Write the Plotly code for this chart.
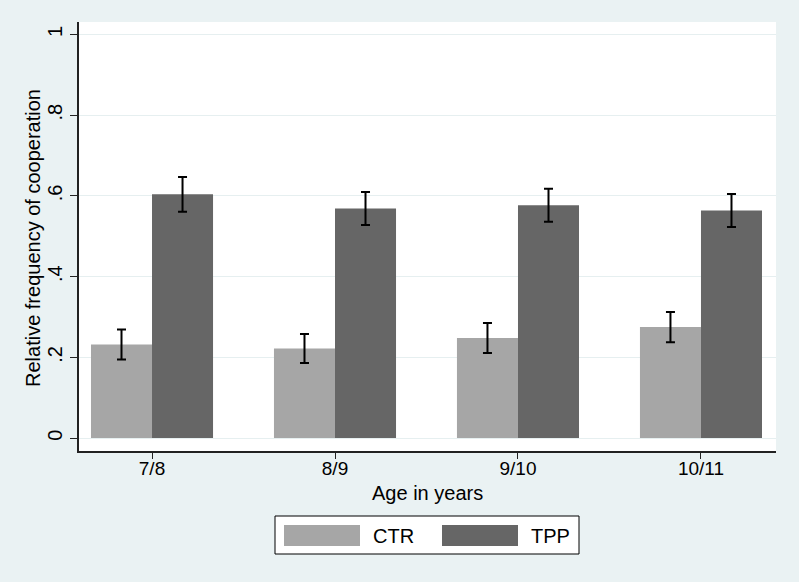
import plotly.graph_objects as go

ages = ["7/8", "8/9", "9/10", "10/11"]
ctr = [0.232, 0.222, 0.248, 0.275]
ctr_err = [0.037, 0.036, 0.037, 0.0375]
tpp = [0.604, 0.569, 0.577, 0.564]
tpp_err = [0.043, 0.041, 0.041, 0.041]
ytick_vals = [0, 0.2, 0.4, 0.6, 0.8, 1]
ytick_text = ["0", ".2", ".4", ".6", ".8", "1"]

CTR_COLOR = "#A6A6A6"
TPP_COLOR = "#666666"
BG = "#EAF2F3"
FONT = "Liberation Sans, Arial, sans-serif"

# plot area in pixels
L, R, T, B = 79, 776, 22, 451
W, H = 799, 582
pw, ph = R - L, B - T


def px(x):
    return (x - L) / pw


def py(y):
    return (B - y) / ph


fig = go.Figure()
fig.add_trace(go.Bar(
    x=ages, y=ctr, name="CTR", marker=dict(color=CTR_COLOR, line=dict(width=0)),
    error_y=dict(type="data", array=ctr_err, color="black", thickness=2, width=4.5),
    showlegend=False,
))
fig.add_trace(go.Bar(
    x=ages, y=tpp, name="TPP", marker=dict(color=TPP_COLOR, line=dict(width=0)),
    error_y=dict(type="data", array=tpp_err, color="black", thickness=2, width=4.5),
    showlegend=False,
))

shapes = []
annotations = []
# legend box
shapes.append(dict(type="rect", xref="paper", yref="paper",
                   x0=px(275), x1=px(579), y0=py(554), y1=py(516),
                   fillcolor="white", line=dict(color="black", width=1)))
legend_items = [("CTR", CTR_COLOR, 284, 371), ("TPP", TPP_COLOR, 442, 529)]
for label, col, sx, tx in legend_items:
    shapes.append(dict(type="rect", xref="paper", yref="paper",
                       x0=px(sx), x1=px(sx + 76), y0=py(546), y1=py(525),
                       fillcolor=col, line=dict(width=0)))
    annotations.append(dict(text=label, xref="paper", yref="paper",
                            x=px(tx), y=py(535.5), xanchor="left", yanchor="middle",
                            showarrow=False, font=dict(size=20, color="black", family=FONT)))

# axis titles
annotations.append(dict(text="Age in years", xref="paper", yref="paper",
                        x=px(427.5), y=py(493), xanchor="center", yanchor="middle",
                        showarrow=False, font=dict(size=20, color="black", family=FONT)))
annotations.append(dict(text="Relative frequency of cooperation", xref="paper", yref="paper",
                        x=px(33), y=py(238), xanchor="center", yanchor="middle", textangle=-90,
                        showarrow=False, font=dict(size=20, color="black", family=FONT)))

fig.update_layout(
    width=W, height=H,
    margin=dict(l=L, r=W - R, t=T, b=H - B, pad=0),
    paper_bgcolor=BG, plot_bgcolor="white",
    barmode="group", bargap=0.333, bargroupgap=0,
    font=dict(family=FONT, size=19, color="black"),
    shapes=shapes, annotations=annotations,
    xaxis=dict(
        type="category", range=[-0.399, 3.41],
        showline=True, linecolor="#222222", linewidth=1.5,
        ticks="outside", ticklen=6, tickcolor="#222222", tickwidth=1.2,
        showgrid=False, zeroline=False,
        tickfont=dict(size=19), ticklabelstandoff=-7,
    ),
    yaxis=dict(
        range=[-0.032, 1.031],
        tickvals=ytick_vals, ticktext=ytick_text, tickangle=-90,
        showline=True, linecolor="#222222", linewidth=1.5,
        ticks="outside", ticklen=7, tickcolor="#222222", tickwidth=1.2,
        showgrid=True, gridcolor="#E6EFF0", gridwidth=1, zeroline=False,
        tickfont=dict(size=20), ticklabelstandoff=0,
    ),
)

fig.write_html("out.html", config={"displayModeBar": False},
               post_script="document.body.style.margin='0';document.body.style.overflow='hidden';")
